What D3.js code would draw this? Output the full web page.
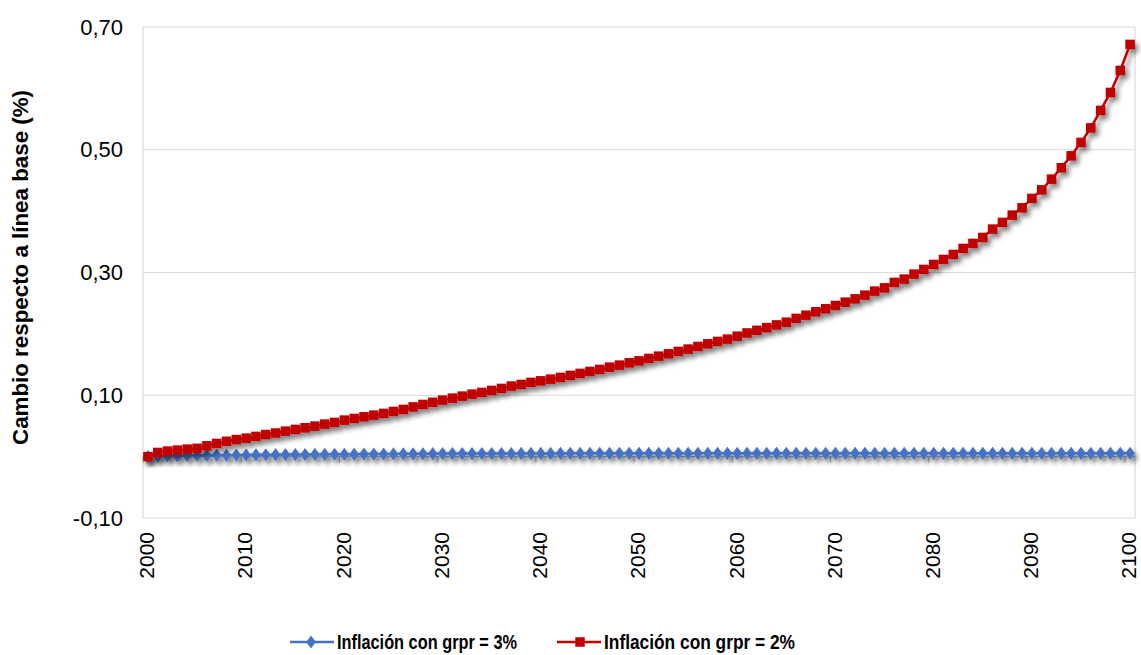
<!DOCTYPE html>
<html>
<head>
<meta charset="utf-8">
<script src="https://cdn.jsdelivr.net/npm/d3@7"></script>
<style>
  html, body { margin: 0; padding: 0; background: #fff; }
  svg { display: block; font-family: Arial, "Liberation Sans", sans-serif; }
</style>
</head>
<body>
<svg id="chart" width="1141" height="655"></svg>
<script>
// ---- data ----
const years = d3.range(2000, 2101);
const xTickLabels = ["2000","2010","2020","2030","2040","2050","2060","2070","2080","2090","2100"];
const yTickValues = [-0.10, 0.10, 0.30, 0.50, 0.70];
const seriesNames = ["Inflación con grpr = 3%", "Inflación con grpr = 2%"];

const grpr3 = [
  0.0000, 0.0005, 0.0010, 0.0012, 0.0015, 0.0018, 0.0020, 0.0022, 0.0024, 0.0026,
  0.0028, 0.0030, 0.0031, 0.0032, 0.0033, 0.0034, 0.0035, 0.0036, 0.0037, 0.0038,
  0.0039, 0.0040, 0.0041, 0.0042, 0.0043, 0.0044, 0.0045, 0.0046, 0.0047, 0.0048,
  0.0049, 0.0050, 0.0050, 0.0050, 0.0051, 0.0051, 0.0051, 0.0051, 0.0052, 0.0052,
  0.0052, 0.0052, 0.0052, 0.0053, 0.0053, 0.0053, 0.0053, 0.0053, 0.0053, 0.0053,
  0.0054, 0.0054, 0.0054, 0.0054, 0.0054, 0.0054, 0.0054, 0.0054, 0.0054, 0.0054,
  0.0054, 0.0054, 0.0054, 0.0054, 0.0054, 0.0054, 0.0054, 0.0054, 0.0054, 0.0054,
  0.0054, 0.0054, 0.0054, 0.0054, 0.0054, 0.0054, 0.0054, 0.0054, 0.0054, 0.0054,
  0.0054, 0.0054, 0.0054, 0.0054, 0.0054, 0.0054, 0.0054, 0.0054, 0.0054, 0.0054,
  0.0054, 0.0054, 0.0054, 0.0054, 0.0054, 0.0054, 0.0054, 0.0054, 0.0054, 0.0054,
  0.0054
];

const grpr2 = [
  0.0000, 0.0068, 0.0090, 0.0106, 0.0122, 0.0135, 0.0176, 0.0215, 0.0250, 0.0278,
  0.0301, 0.0329, 0.0360, 0.0385, 0.0415, 0.0443, 0.0470, 0.0497, 0.0530, 0.0557,
  0.0595, 0.0622, 0.0649, 0.0676, 0.0704, 0.0736, 0.0769, 0.0810, 0.0850, 0.0885,
  0.0921, 0.0953, 0.0986, 0.1018, 0.1046, 0.1079, 0.1111, 0.1149, 0.1176, 0.1209,
  0.1235, 0.1263, 0.1290, 0.1323, 0.1356, 0.1388, 0.1421, 0.1458, 0.1491, 0.1529,
  0.1561, 0.1600, 0.1637, 0.1675, 0.1714, 0.1752, 0.1795, 0.1838, 0.1877, 0.1915,
  0.1962, 0.2015, 0.2058, 0.2102, 0.2146, 0.2190, 0.2252, 0.2305, 0.2360, 0.2409,
  0.2463, 0.2517, 0.2571, 0.2631, 0.2697, 0.2750, 0.2838, 0.2892, 0.2974, 0.3050,
  0.3131, 0.3213, 0.3294, 0.3392, 0.3474, 0.3571, 0.3707, 0.3816, 0.3935, 0.4054,
  0.4207, 0.4347, 0.4521, 0.4706, 0.4901, 0.5119, 0.5357, 0.5641, 0.5934, 0.6292,
  0.6716
];

// ---- layout ----
const svg = d3.select("#chart");
const plot = { left: 143, right: 1135, top: 27, bottom: 518 };

const x = d3.scalePoint().domain(years).range([plot.left, plot.right]).padding(0.5);
const step = x.step();
const y = d3.scaleLinear().domain([-0.10, 0.70]).range([plot.bottom, plot.top]);

const blue = "#4472C4", red = "#C00000", grid = "#D9D9D9";

// shadow filter
const defs = svg.append("defs");
const f = defs.append("filter").attr("id", "shadow")
  .attr("x", "-5%").attr("y", "-5%").attr("width", "115%").attr("height", "125%");
f.append("feDropShadow").attr("dx", 3).attr("dy", 4).attr("stdDeviation", 2.4)
  .attr("flood-color", "#000").attr("flood-opacity", 0.5);

// gridlines
svg.append("g").selectAll("line").data(yTickValues).join("line")
  .attr("x1", plot.left).attr("x2", plot.right)
  .attr("y1", d => y(d)).attr("y2", d => y(d))
  .attr("stroke", grid).attr("stroke-width", 1.2);

// plot border (left/right)
svg.append("line").attr("x1", plot.left).attr("x2", plot.left)
  .attr("y1", plot.top).attr("y2", plot.bottom).attr("stroke", grid).attr("stroke-width", 1.2);
svg.append("line").attr("x1", plot.right).attr("x2", plot.right)
  .attr("y1", plot.top).attr("y2", plot.bottom).attr("stroke", grid).attr("stroke-width", 1.2);

// y axis labels
const fmt = d => {
  const s = Math.abs(d).toFixed(2).replace(".", ",");
  return (d < 0 ? "-" : "") + s;
};
const yAxis = d3.axisLeft(y).tickValues(yTickValues).tickSize(0).tickPadding(0).tickFormat(fmt);
const gy = svg.append("g").attr("transform", `translate(${plot.left - 20},0)`).call(yAxis);
gy.select(".domain").remove();
gy.selectAll("text").attr("font-size", 22).attr("fill", "#000")
  .attr("font-family", "Arial, 'Liberation Sans', sans-serif");

// category axis at y = 0
const zeroY = y(0);
svg.append("line").attr("x1", plot.left).attr("x2", plot.right)
  .attr("y1", zeroY).attr("y2", zeroY).attr("stroke", "#BFBFBF").attr("stroke-width", 1.2);
const tickYears = xTickLabels.map(Number);
svg.append("g").selectAll("line").data(tickYears).join("line")
  .attr("x1", d => x(d) - step / 2).attr("x2", d => x(d) - step / 2)
  .attr("y1", zeroY).attr("y2", zeroY + 6)
  .attr("stroke", "#BFBFBF").attr("stroke-width", 1.2);

// x labels (rotated) at bottom
svg.append("g").selectAll("text").data(xTickLabels).join("text")
  .attr("transform", d => `translate(${x(+d)},${plot.bottom + 14}) rotate(-90)`)
  .attr("text-anchor", "end").attr("dy", "0.3em")
  .attr("font-size", 21).attr("fill", "#000")
  .text(d => d);

// y axis title
svg.append("text")
  .attr("transform", `translate(28,${(90 + 445) / 2}) rotate(-90)`)
  .attr("text-anchor", "middle")
  .attr("font-size", 22).attr("font-weight", "bold").attr("fill", "#000")
  .attr("textLength", 355).attr("lengthAdjust", "spacingAndGlyphs")
  .text("Cambio respecto a línea base (%)");

// series
const line = d3.line().x((d, i) => x(years[i])).y(d => y(d));

const gBlue = svg.append("g").attr("filter", "url(#shadow)");
gBlue.append("path").datum(grpr3).attr("d", line)
  .attr("fill", "none").attr("stroke", blue).attr("stroke-width", 2.5);
gBlue.selectAll("path.m").data(grpr3).join("path").attr("class", "m")
  .attr("d", d3.symbol(d3.symbolDiamond, 50))
  .attr("transform", (d, i) => `translate(${x(years[i])},${y(d)}) scale(1.25,1)`)
  .attr("fill", blue);

const gRed = svg.append("g").attr("filter", "url(#shadow)");
gRed.append("path").datum(grpr2).attr("d", line)
  .attr("fill", "none").attr("stroke", red).attr("stroke-width", 2.5);
gRed.selectAll("rect").data(grpr2).join("rect")
  .attr("x", (d, i) => x(years[i]) - 4.75).attr("y", d => y(d) - 4.75)
  .attr("width", 9.5).attr("height", 9.5).attr("fill", red);

// legend
const legendY = 642;
const legBase = 649;
const leg = svg.append("g");
// item 1
leg.append("line").attr("x1", 290).attr("x2", 334).attr("y1", legendY).attr("y2", legendY)
  .attr("stroke", blue).attr("stroke-width", 2.5);
leg.append("path").attr("d", d3.symbol(d3.symbolDiamond, 50))
  .attr("transform", `translate(311,${legendY}) scale(1.25,1)`).attr("fill", blue);
leg.append("text").attr("x", 337).attr("y", legBase)
  .attr("font-size", 21).attr("font-weight", "bold").attr("fill", "#000")
  .attr("textLength", 180).attr("lengthAdjust", "spacingAndGlyphs")
  .text(seriesNames[0]);
// item 2
leg.append("line").attr("x1", 557).attr("x2", 601).attr("y1", legendY).attr("y2", legendY)
  .attr("stroke", red).attr("stroke-width", 2.5);
leg.append("rect").attr("x", 580 - 4.75).attr("y", legendY - 4.75)
  .attr("width", 9.5).attr("height", 9.5).attr("fill", red);
leg.append("text").attr("x", 604).attr("y", legBase)
  .attr("font-size", 21).attr("font-weight", "bold").attr("fill", "#000")
  .attr("textLength", 191).attr("lengthAdjust", "spacingAndGlyphs")
  .text(seriesNames[1]);
</script>
</body>
</html>
